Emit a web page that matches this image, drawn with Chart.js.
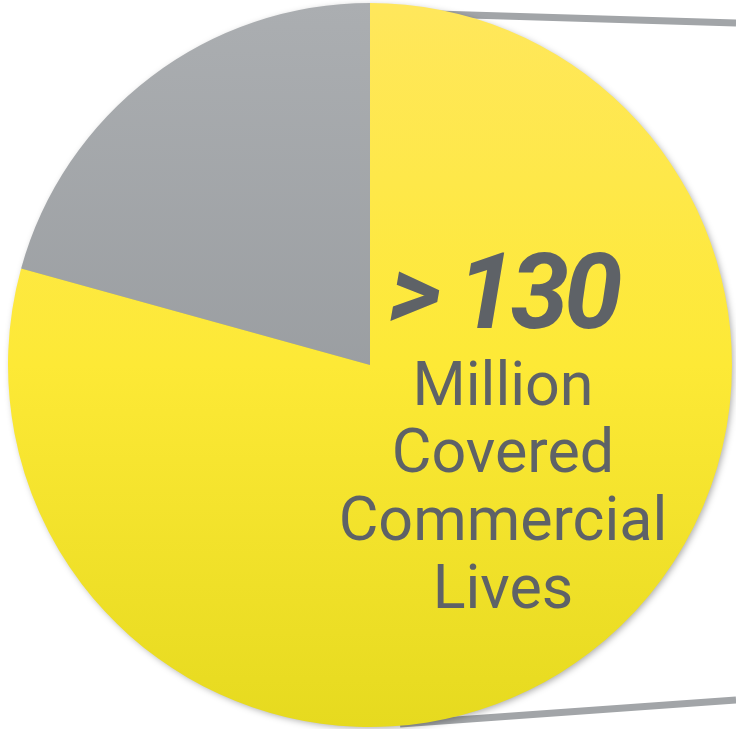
<!DOCTYPE html>
<html>
<head>
    <title>Covered Commercial Lives</title>
    <script src="https://cdn.jsdelivr.net/npm/chart.js"></script>
    <style>
        html, body { margin: 0; padding: 0; background: #ffffff; }
        #wrap { position: absolute; left: 0; top: 0; width: 736px; height: 729px; }
    </style>
</head>
<body>
    <div id="wrap"><canvas id="myChart"></canvas></div>

    <script>
        // data
        var labels = ["Covered commercial lives", "Other"];
        var values = [79.3, 20.7];
        var bigNumber = "> 130";
        var captionLines = ["Million", "Covered", "Commercial", "Lives"];

        var textColor = "#5e6267";

        function sliceGradient(context) {
            var chart = context.chart;
            var area = chart.chartArea;
            if (!area) return null;
            var g = chart.ctx.createLinearGradient(0, area.top, 0, area.bottom);
            if (context.dataIndex === 0) {
                g.addColorStop(0, "#ffe75c");
                g.addColorStop(0.5, "#fde936");
                g.addColorStop(1, "#e6da1f");
            } else {
                g.addColorStop(0, "#abaeb1");
                g.addColorStop(1, "#8b8f93");
            }
            return g;
        }

        // callout lines + soft shadow behind the pie, caption on top
        var backdrop = {
            id: "backdrop",
            beforeDatasetsDraw: function(chart) {
                var ctx = chart.ctx;
                var arc = chart.getDatasetMeta(0).data[0];
                var cx = arc.x, cy = arc.y, r = arc.outerRadius;
                var w = chart.width;
                ctx.save();
                ctx.strokeStyle = "#a2a5a8";
                ctx.lineWidth = 7;
                ctx.beginPath();
                ctx.moveTo(cx, 12);
                ctx.lineTo(w, 23);
                ctx.stroke();
                ctx.beginPath();
                ctx.moveTo(cx + 30, 724);
                ctx.lineTo(w, 700);
                ctx.stroke();
                ctx.shadowColor = "rgba(0,0,0,0.35)";
                ctx.shadowBlur = 7;
                ctx.shadowOffsetX = 2;
                ctx.shadowOffsetY = 2;
                ctx.fillStyle = "#f0e020";
                ctx.beginPath();
                ctx.arc(cx, cy, r - 1, 0, Math.PI * 2);
                ctx.fill();
                ctx.restore();
            },
            afterDatasetsDraw: function(chart) {
                var ctx = chart.ctx;
                var arc = chart.getDatasetMeta(0).data[0];
                var x = arc.x + 133;
                ctx.save();
                ctx.fillStyle = textColor;
                ctx.textAlign = "center";
                ctx.textBaseline = "alphabetic";
                ctx.font = "italic bold 105px Roboto";
                ctx.letterSpacing = "-5px";
                ctx.fillText(bigNumber, x, 328);
                ctx.letterSpacing = "0px";
                ctx.font = "61px Roboto";
                var baselines = [405, 472, 540, 608];
                captionLines.forEach(function(line, i) {
                    ctx.fillText(line, x, baselines[i]);
                });
                ctx.restore();
            }
        };

        var ctx = document.getElementById("myChart").getContext("2d");
        new Chart(ctx, {
            type: "pie",
            data: {
                labels: labels,
                datasets: [{
                    data: values,
                    backgroundColor: sliceGradient,
                    borderWidth: 0
                }]
            },
            options: {
                responsive: true,
                maintainAspectRatio: false,
                animation: false,
                layout: { padding: { left: 8, right: 4, top: 3, bottom: 2 } },
                plugins: {
                    legend: { display: false },
                    tooltip: { enabled: false }
                }
            },
            plugins: [backdrop]
        });
    </script>
</body>
</html>
